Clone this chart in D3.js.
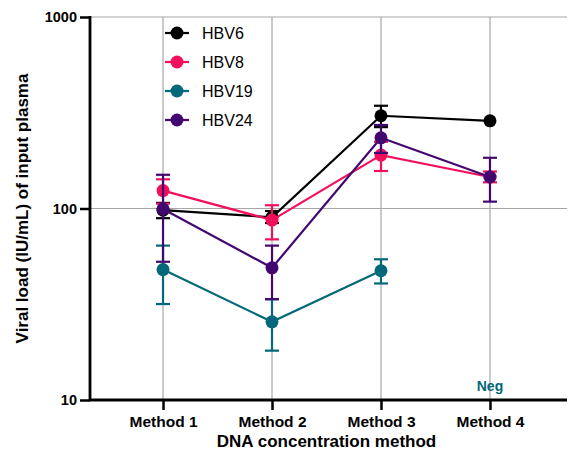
<!DOCTYPE html>
<meta charset="utf-8">
<style>
  body { margin: 0; background: #fff; }
  svg { font-family: Arial, "Liberation Sans", sans-serif; }
  .axis text { font-weight: bold; fill: #000; }
  .grid line { stroke: #a6a6a6; stroke-width: 1.2px; }
</style>
<svg width="568" height="455"></svg>
<script src="https://d3js.org/d3.v7.min.js"></script>
<script>
  var methods = ["Method 1", "Method 2", "Method 3", "Method 4"];
  var yTicks = [10, 100, 1000];

  // mean values, lower / upper error bar ends (null = not shown)
  var hbv6 = [98, 90, 305, 287];
  var hbv6Lo = [89, 84, 266, null];
  var hbv6Hi = [107, 97, 344, null];

  var hbv8 = [124, 87, 190, 146];
  var hbv8Lo = [106, 69, 157, 137];
  var hbv8Hi = [142, 104, 223, 156];

  var hbv19 = [48, 25.6, 47.3, null];
  var hbv19Lo = [31.7, 18.1, 40.6, null];
  var hbv19Hi = [64, 33.6, 54.3, null];

  var hbv24 = [99.5, 49, 234, 146];
  var hbv24Lo = [52.7, 33.6, 195, 108.6];
  var hbv24Hi = [150, 64, 273, 184];

  var series = [
    { name: "HBV6", color: "#000000", v: hbv6, lo: hbv6Lo, hi: hbv6Hi },
    { name: "HBV8", color: "#f2105c", v: hbv8, lo: hbv8Lo, hi: hbv8Hi },
    { name: "HBV19", color: "#02687a", v: hbv19, lo: hbv19Lo, hi: hbv19Hi },
    { name: "HBV24", color: "#430870", v: hbv24, lo: hbv24Lo, hi: hbv24Hi }
  ];

  var svg = d3.select("svg");
  var mLeft = 90, mRight = 563, mTop = 17, mBottom = 400;

  var x = d3.scalePoint().domain(methods).range([mLeft, mRight]).padding(0.67);
  var y = d3.scaleLog().domain([10, 1000]).range([mBottom, mTop]);

  // grid
  var grid = svg.append("g").attr("class", "grid");
  grid.selectAll(".v").data(methods).enter().append("line")
    .attr("x1", function(d) { return x(d); }).attr("x2", function(d) { return x(d); })
    .attr("y1", mTop).attr("y2", mBottom);
  grid.selectAll(".h").data([100, 1000]).enter().append("line")
    .attr("x1", mLeft).attr("x2", 567)
    .attr("y1", function(d) { return y(d); }).attr("y2", function(d) { return y(d); });

  // series
  series.forEach(function(s) {
    var g = svg.append("g");
    var pts = methods.map(function(m, i) {
      return { m: m, v: s.v[i], lo: s.lo[i], hi: s.hi[i] };
    });
    var line = d3.line()
      .defined(function(d) { return d.v != null; })
      .x(function(d) { return x(d.m); })
      .y(function(d) { return y(d.v); });
    g.append("path").datum(pts).attr("d", line)
      .attr("fill", "none").attr("stroke", s.color).attr("stroke-width", 2.2);

    var eb = pts.filter(function(d) { return d.lo != null; });
    var bars = g.selectAll(".eb").data(eb).enter().append("g")
      .attr("stroke", s.color).attr("stroke-width", 2.2);
    bars.append("line")
      .attr("x1", function(d) { return x(d.m); }).attr("x2", function(d) { return x(d.m); })
      .attr("y1", function(d) { return y(d.lo); }).attr("y2", function(d) { return y(d.hi); });
    ["lo", "hi"].forEach(function(k) {
      bars.append("line")
        .attr("x1", function(d) { return x(d.m) - 7; }).attr("x2", function(d) { return x(d.m) + 7; })
        .attr("y1", function(d) { return y(d[k]); }).attr("y2", function(d) { return y(d[k]); });
    });

    g.selectAll("circle").data(pts.filter(function(d) { return d.v != null; }))
      .enter().append("circle")
      .attr("cx", function(d) { return x(d.m); })
      .attr("cy", function(d) { return y(d.v); })
      .attr("r", 6.5).attr("fill", s.color);
  });

  // axes
  var yAxis = svg.append("g").attr("class", "axis")
    .attr("transform", "translate(" + mLeft + ",0)")
    .call(d3.axisLeft(y).tickValues(yTicks).tickFormat(d3.format("d")).tickSize(10).tickPadding(3));
  yAxis.selectAll("text").style("font-size", "14.5px");
  yAxis.selectAll("line").attr("stroke-width", 2.5);
  yAxis.select(".domain").attr("stroke-width", 2.8).attr("d", "M0," + (mTop - 1) + "V" + (mBottom + 1));

  var xAxis = svg.append("g").attr("class", "axis")
    .attr("transform", "translate(0," + mBottom + ")")
    .call(d3.axisBottom(x).tickSize(10).tickPadding(6));
  xAxis.selectAll("text").style("font-size", "15.5px");
  xAxis.selectAll("line").attr("stroke-width", 2.5);
  xAxis.select(".domain").attr("stroke-width", 2.8).attr("d", "M" + (mLeft - 1) + ",0H567");

  svg.append("text").attr("x", (mLeft + mRight) / 2).attr("y", 447)
    .attr("text-anchor", "middle").style("font-size", "17px").style("font-weight", "bold")
    .text("DNA concentration method");
  svg.append("text")
    .attr("transform", "translate(28," + (mTop + mBottom) / 2 + ") rotate(-90)")
    .attr("text-anchor", "middle").style("font-size", "17px").style("font-weight", "bold")
    .text("Viral load (IU/mL) of input plasma");

  svg.append("text").attr("x", x("Method 4")).attr("y", 391)
    .attr("text-anchor", "middle").style("font-size", "14px").style("font-weight", "bold")
    .attr("fill", "#02687a").text("Neg");

  // legend
  var leg = svg.append("g").selectAll("g").data(series).enter().append("g")
    .attr("transform", function(d, i) { return "translate(177," + (33 + i * 29) + ")"; });
  leg.append("line").attr("x1", -12).attr("x2", 12)
    .attr("stroke", function(d) { return d.color; }).attr("stroke-width", 2.2);
  leg.append("circle").attr("r", 6.5).attr("fill", function(d) { return d.color; });
  leg.append("text").attr("x", 25).attr("y", 6).style("font-size", "16px")
    .text(function(d) { return d.name; });
</script>
